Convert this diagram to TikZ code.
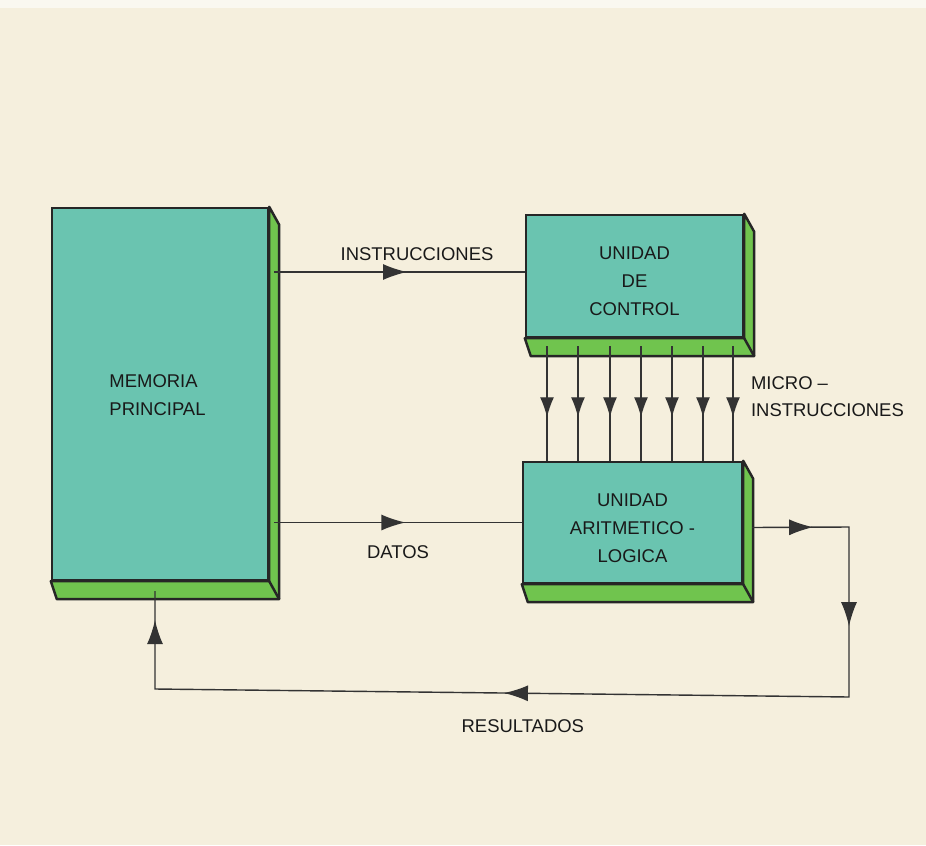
\documentclass[tikz,border=0pt]{standalone}
\usepackage{fontspec}
\setmainfont{Liberation Sans}
\usepackage{tikz}
\usetikzlibrary{calc,arrows.meta,positioning,decorations.markings}
\definecolor{cream}{RGB}{245,239,221}
\definecolor{frontcol}{RGB}{106,196,176}
\definecolor{sidecol}{RGB}{112,196,78}

\begin{document}
\begin{tikzpicture}[
        x=0.02cm, y=-0.02cm,
        unitbox/.style={
            rectangle,
            draw=black!85,
            line width=1.4pt,
            fill=frontcol,
            align=center,
            inner sep=0pt,
            text=black!90,
            font=\fontsize{10.5}{16}\selectfont
        },
        sideface/.style={fill=sidecol, draw=black!85, line width=1.4pt, line join=round},
        flow/.style={draw=black!80, line width=0.8pt},
        midarrow/.style={flow, postaction={decorate},
            decoration={markings, mark=at position #1 with {\arrow{Latex[length=0.48cm,width=0.32cm]}}}},
        microarrow/.style={flow, postaction={decorate},
            decoration={markings, mark=at position 0.62 with {\arrow{Latex[length=0.4cm,width=0.28cm]}}}},
        lbl/.style={font=\fontsize{10.5}{15.5}\selectfont, text=black!90, inner sep=1pt}
    ]
        % background
        \fill[cream] (0,0) rectangle (926,845);
        \fill[white!55!cream] (0,0) rectangle (926,8);

        \node[unitbox, minimum width=4.32cm, minimum height=7.44cm] (mem) at (160,394)
            {\hspace*{-0.1cm}\raisebox{-0.04cm}[\height][\depth]{\begin{tabular}{@{}l@{}}MEMORIA\\PRINCIPAL\end{tabular}}};
        \node[unitbox, minimum width=4.34cm, minimum height=2.44cm] (uc) at (634.5,276)
            {\raisebox{-0.12cm}[\height][\depth]{\begin{tabular}{@{}c@{}}UNIDAD\\DE\\CONTROL\end{tabular}}};
        \node[unitbox, minimum width=4.38cm, minimum height=2.42cm] (alu) at (632.5,522.5)
            {\raisebox{-0.12cm}[\height][\depth]{\begin{tabular}{@{}c@{}}UNIDAD\\ARITMETICO -\\LOGICA\end{tabular}}};

        % green depth faces
        \foreach \b in {mem,uc,alu} {
            \filldraw[sideface] (\b.north east) -- ++(10,18) -- ($(\b.south east)+(10,18)$)
                -- ($(\b.south west)+(6,18)$) -- (\b.south west) -- (\b.south east) -- cycle;
            \draw[sideface] (\b.south east) -- ++(10,18);
        }

        \coordinate (memside) at ($(mem.east)+(5,0)$);
        \coordinate (membot) at ($(mem.south)+(0,10)$);
        \coordinate (ucbot) at ($(uc.south)+(0,8)$);
        \coordinate (aluside) at ($(alu.east)+(9,5)$);
        \coordinate (turn1) at (849,527);
        \coordinate (turn2) at (849,697);
        \coordinate (turn3) at (155,689);

        % connectors
        \draw[midarrow=0.53] (memside |- uc.west) ++(0,-4) -- node[lbl, above=5pt, pos=0.57] {INSTRUCCIONES} ($(uc.west)+(0,-4)$);
        \draw[midarrow=0.53] (memside |- alu.west) -- node[lbl, below=11.5pt, pos=0.5] {DATOS} (alu.west);

        \foreach \x in {547,578,610,641,672,703,733}
            \draw[microarrow] (\x,0 |- ucbot) -- (\x,0 |- alu.north);
        \node[lbl, anchor=west, align=left] (micro) at (749,397) {MICRO –\\INSTRUCCIONES};

        \draw[flow, postaction={decorate}, decoration={markings,
                mark=at position 1.22cm with {\arrow{Latex[length=0.48cm,width=0.32cm]}},
                mark=at position 3.92cm with {\arrow{Latex[length=0.48cm,width=0.32cm]}},
                mark=at position 12.24cm with {\arrow{Latex[length=0.48cm,width=0.32cm]}},
                mark=at position 20.6cm with {\arrow{Latex[length=0.48cm,width=0.32cm]}}}]
            (aluside) -- (turn1) -- (turn2)
            -- node[lbl, below=13.5pt, pos=0.47] {RESULTADOS} (turn3)
            -- (turn3 |- membot);
    \end{tikzpicture}
\end{document}
